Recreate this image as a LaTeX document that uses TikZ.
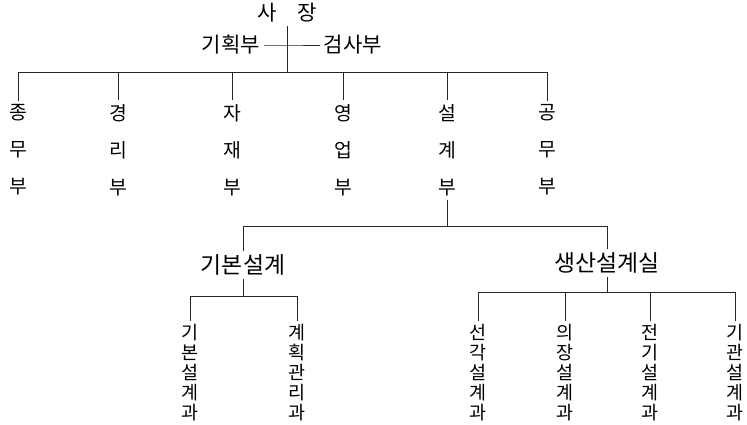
\documentclass[tikz,border=0pt]{standalone}
\usepackage{fontspec}
\setmainfont{Noto Sans CJK KR}
\usetikzlibrary{positioning}

\begin{document}
\begin{tikzpicture}[x=0.02cm, y=-0.02cm, line width=0.5pt, draw=black!85,
    office/.style={font=\fontsize{12}{14}\selectfont, inner sep=2pt},
    dept/.style={align=center, font=\fontsize{11}{21}\selectfont, inner sep=2pt},
    sect/.style={align=center, font=\fontsize{10.5}{11.4}\selectfont, inner sep=2pt},
    room/.style={font=\fontsize{13}{15}\selectfont, inner sep=2pt}]
    \useasboundingbox (0,0) rectangle (747,425);

    % top
    \node [office] (ceo) at (287,13) {사\quad 장};
    \node [office, anchor=east] (plan) at (264,45) {기획부};
    \node [office, anchor=west] (audit) at (320,45) {검사부};
    \coordinate (mid) at (287,45);
    \coordinate (bus1) at (287,72);
    \draw (ceo.south) -- (bus1);
    \draw (plan.east) -- (mid) -- (audit.west);
    \draw (18,72) coordinate (b1l) -- (547,72) coordinate (b1r);

    % departments
    \foreach \name/\x/\txt in {gen/18/종\\무\\부, acc/118/경\\리\\부, mat/232/자\\재\\부,
                               sales/343/영\\업\\부, design/447/설\\계\\부, works/547/공\\무\\부} {
        \node [dept] (\name) at (\x,150) {\txt};
        \draw (\x,72) -- (\name.north);
    }

    % design branch
    \coordinate (bus2) at (447,226);
    \draw (design.south) -- (bus2);
    \draw (243,226) coordinate (b2l) -- (607,226) coordinate (b2r);

    \node [room] (basic) at (243,265) {기본설계};
    \node [room] (prod) at (607,263) {생산설계실};
    \draw (b2l) -- (basic.north);
    \draw (b2r) -- (prod.north);

    \draw (basic.south) -- (243,296);
    \draw (190,296) coordinate (b3l) -- (297,296) coordinate (b3r);
    \draw (prod.south) -- (607,292);
    \draw (478,292) coordinate (b4l) -- (735,292) coordinate (b4r);

    % sections
    \foreach \name/\x/\y/\txt in {bas/190/296/기\\본\\설\\계\\과, pm/297/296/계\\획\\관\\리\\과,
                                  hull/478/292/선\\각\\설\\계\\과, outf/565/292/의\\장\\설\\계\\과,
                                  elec/650/292/전\\기\\설\\계\\과, mach/735/292/기\\관\\설\\계\\과} {
        \node [sect] (\name) at (\x,373) {\txt};
        \draw (\x,\y) -- (\name.north);
    }
\end{tikzpicture}
\end{document}
